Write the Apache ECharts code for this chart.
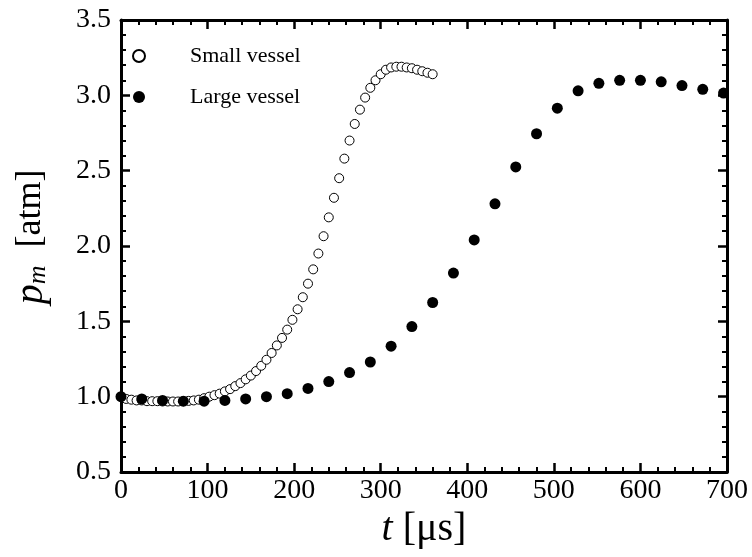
<!DOCTYPE html>
<html>
<head>
<meta charset="utf-8">
<script src="https://cdn.jsdelivr.net/npm/echarts@6/dist/echarts.min.js"></script>
<style>
  html, body { margin: 0; padding: 0; background: #fff; }
  #chart { width: 752px; height: 557px; }
</style>
</head>
<body>
<div id="chart"></div>
<script>
// Mean pressure p_m versus time for the two vessel sizes
const smallTime = [
  0, 6, 12, 18, 24, 30, 36, 42, 48, 54, 60, 66, 72, 78, 84, 90, 96, 102, 108, 114,
  120, 126, 132, 138, 144, 150, 156, 162, 168, 174, 180, 186, 192, 198, 204, 210,
  216, 222, 228, 234, 240, 246, 252, 258, 264, 270, 276, 282, 288, 294, 300, 306,
  312, 318, 324, 330, 336, 342, 348, 354, 360
];
const smallPressure = [
  1.00, 0.985, 0.98, 0.975, 0.975, 0.97, 0.97, 0.97, 0.968, 0.968, 0.968, 0.968, 0.97, 0.972, 0.975, 0.98,
  0.99, 1.00, 1.01, 1.02, 1.035, 1.05, 1.07, 1.09, 1.115, 1.14, 1.17, 1.205, 1.245, 1.29, 1.34, 1.39,
  1.445, 1.51, 1.58, 1.66, 1.75, 1.845, 1.95, 2.065, 2.19, 2.32, 2.45, 2.58, 2.70, 2.81, 2.905, 2.985,
  3.05, 3.10, 3.14, 3.17, 3.185, 3.19, 3.19, 3.185, 3.18, 3.17, 3.16, 3.15, 3.14
];

const largeTime = [
  0, 24, 48, 72, 96, 120, 144, 168, 192, 216, 240, 264, 288, 312, 336,
  360, 384, 408, 432, 456, 480, 504, 528, 552, 576, 600, 624, 648, 672, 696
];
const largePressure = [
  1.00, 0.985, 0.975, 0.97, 0.97, 0.975, 0.985, 1.00, 1.02, 1.055, 1.10, 1.16, 1.23, 1.335, 1.465,
  1.625, 1.82, 2.04, 2.28, 2.525, 2.745, 2.915, 3.03, 3.08, 3.10, 3.10, 3.09, 3.065, 3.04, 3.015
];

const seriesNames = ['Small vessel', 'Large vessel'];
const xTicks = { min: 0, max: 700, step: 100 };
const yTicks = { min: 0.5, max: 3.5, step: 0.5 };

const pairs = (xs, ys) => xs.map((x, i) => [x, ys[i]]);

const FONT = '"Liberation Serif", "Times New Roman", serif';
const INK = '#000';

function frameAxis(base, opts) {
  return Object.assign({
    type: 'value',
    axisLine: { show: true, onZero: false, lineStyle: { color: INK, width: 3 } },
    axisTick: { show: true, inside: true, length: 9, lineStyle: { color: INK, width: 2.5 } },
    minorTick: { show: true, splitNumber: 5, length: 5, lineStyle: { color: INK, width: 2 } },
    splitLine: { show: false },
    minorSplitLine: { show: false }
  }, base, opts);
}

const chart = echarts.init(document.getElementById('chart'), null, { renderer: 'canvas' });

chart.setOption({
  backgroundColor: '#fff',
  animation: false,
  grid: { left: 121, right: 25, top: 20, bottom: 85, containLabel: false },
  legend: {
    data: seriesNames,
    orient: 'vertical',
    left: 132,
    top: 45,
    padding: 0,
    itemGap: 19,
    itemWidth: 12,
    itemHeight: 12,
    selectedMode: false,
    textStyle: {
      fontFamily: FONT, fontSize: 22, color: INK, lineHeight: 22,
      padding: [0, 0, 0, 40]
    }
  },
  xAxis: [
    frameAxis({ min: xTicks.min, max: xTicks.max, interval: xTicks.step }, {
      position: 'bottom',
      axisLabel: { show: true, fontFamily: FONT, fontSize: 28, color: INK, margin: 5 },
      name: '{i|t} [μs]',
      nameLocation: 'middle',
      nameGap: 30,
      nameTextStyle: {
        fontFamily: FONT, fontSize: 40, color: INK, verticalAlign: 'top',
        rich: { i: { fontFamily: FONT, fontSize: 40, fontStyle: 'italic', color: INK } }
      }
    }),
    frameAxis({ min: xTicks.min, max: xTicks.max, interval: xTicks.step }, {
      position: 'top',
      axisLabel: { show: false }
    })
  ],
  yAxis: [
    frameAxis({ min: yTicks.min, max: yTicks.max, interval: yTicks.step }, {
      position: 'left',
      axisLabel: {
        show: true, fontFamily: FONT, fontSize: 28, color: INK, margin: 10,
        formatter: v => v.toFixed(1)
      },
      name: '{i|p}{s|m}  [atm]',
      nameLocation: 'middle',
      nameGap: 70,
      nameTextStyle: {
        fontFamily: FONT, fontSize: 36, color: INK, padding: [0, 0, 0, 18],
        rich: {
          i: { fontFamily: FONT, fontSize: 40, fontStyle: 'italic', color: INK, lineHeight: 40 },
          s: { fontFamily: FONT, fontSize: 26, fontStyle: 'italic', color: INK, lineHeight: 10, verticalAlign: 'bottom' }
        }
      }
    }),
    frameAxis({ min: yTicks.min, max: yTicks.max, interval: yTicks.step }, {
      position: 'right',
      axisLabel: { show: false }
    })
  ],
  series: [
    {
      name: seriesNames[0],
      type: 'scatter',
      xAxisIndex: 0,
      yAxisIndex: 0,
      symbol: 'circle',
      symbolSize: 9,
      itemStyle: { color: '#fff', borderColor: INK, borderWidth: 1, opacity: 1 },
      data: pairs(smallTime, smallPressure),
      z: 2
    },
    {
      name: seriesNames[1],
      type: 'scatter',
      xAxisIndex: 0,
      yAxisIndex: 0,
      symbol: 'circle',
      symbolSize: 11,
      itemStyle: { color: INK, borderColor: INK, borderWidth: 0, opacity: 1 },
      data: pairs(largeTime, largePressure),
      z: 3
    }
  ]
});
</script>
</body>
</html>
